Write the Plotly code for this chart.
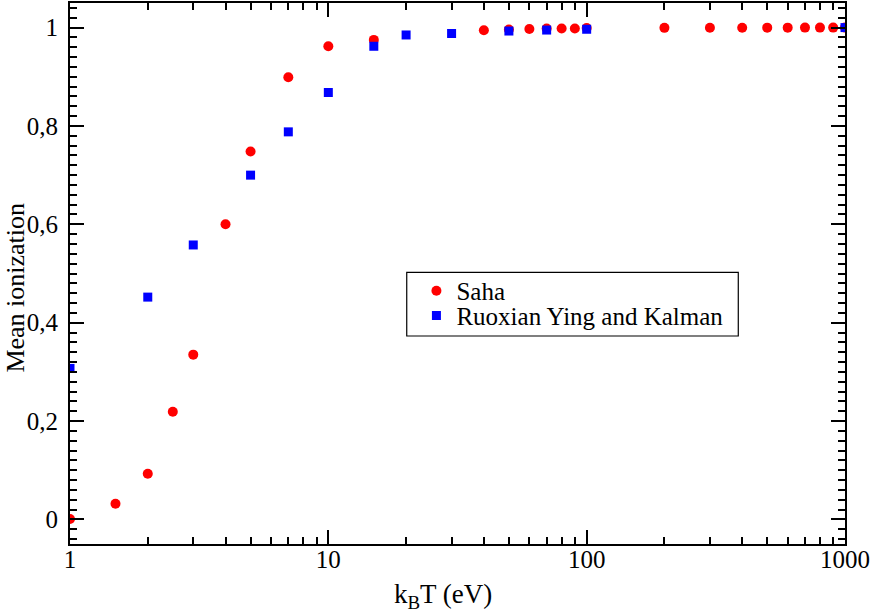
import plotly.graph_objects as go

saha_T = [1, 1.5, 2, 2.5, 3, 4, 5, 7, 10, 15, 40, 50, 60, 70, 80, 90, 100,
          200, 300, 400, 500, 600, 700, 800, 900, 1000]
saha_Z = [0.001, 0.032, 0.093, 0.219, 0.335, 0.600, 0.748, 0.899, 0.962, 0.975,
          0.9945, 0.996, 0.997, 0.998, 0.998, 0.998, 0.999,
          0.9995, 0.9997, 0.9998, 0.9999, 0.9999, 1.0, 1.0, 1.0, 1.0]

ryk_T = [1, 2, 3, 5, 7, 10, 15, 20, 30, 50, 70, 100, 1000]
ryk_Z = [0.307, 0.452, 0.558, 0.700, 0.788, 0.868, 0.962, 0.985, 0.988,
         0.993, 0.995, 0.9966, 1.0]

x_major = [1, 10, 100, 1000]
x_minor = [m * d for d in (1, 10, 100) for m in range(2, 10)]
y_major = [0, 0.2, 0.4, 0.6, 0.8, 1]
y_major_text = ["0", "0,2", "0,4", "0,6", "0,8", "1"]

x_title = "k<sub>B</sub>T (eV)"
y_title = "Mean ionization"

FONT = "Liberation Serif, Times New Roman, DejaVu Serif, serif"

fig = go.Figure()
fig.add_trace(go.Scatter(x=saha_T, y=saha_Z, mode="markers", name="Saha",
                         legend="legend",
                         marker=dict(symbol="circle", size=10, color="#ff0000",
                                     line=dict(width=0))))
fig.add_trace(go.Scatter(x=ryk_T, y=ryk_Z, mode="markers",
                         name="Ruoxian Ying and Kalman", legend="legend2",
                         marker=dict(symbol="square", size=9, color="#0000ff",
                                     line=dict(width=0))))

leg_common = dict(xanchor="left", yanchor="middle", bgcolor="rgba(0,0,0,0)",
                  borderwidth=0, font=dict(family=FONT, size=25, color="black"))

fig.update_layout(
    width=872, height=613,
    margin=dict(l=70, r=27, t=3, b=69),
    paper_bgcolor="white", plot_bgcolor="white",
    font=dict(family=FONT, size=25, color="black"),
    showlegend=True,
    legend=dict(x=0.447, y=0.4677, **leg_common),
    legend2=dict(x=0.447, y=0.422, **leg_common),
    shapes=[dict(type="rect", xref="paper", yref="paper",
                 x0=0.4345, x1=0.8623, y0=0.3845, y1=0.5022,
                 line=dict(color="black", width=1.2), fillcolor="white",
                 layer="below")],
    annotations=[
        dict(text=x_title, xref="paper", yref="paper", x=0.4815, y=-0.096,
             xanchor="center", yanchor="middle", showarrow=False,
             font=dict(family=FONT, size=27, color="black")),
        dict(text=y_title, xref="paper", yref="paper", x=-0.0703, y=0.473,
             xanchor="center", yanchor="middle", showarrow=False,
             borderpad=0,
             textangle=-90, font=dict(family=FONT, size=26, color="black")),
    ],
    xaxis=dict(type="log", range=[0, 3], automargin=False,
               tickvals=x_major, ticktext=[str(v) for v in x_major],
               ticks="inside", ticklen=14, tickwidth=1.5, tickcolor="black",
               ticklabelstandoff=-8,
               minor=dict(tickvals=x_minor, ticks="inside", ticklen=7,
                          tickwidth=1.5, tickcolor="black", showgrid=False),
               showline=True, linecolor="black", linewidth=2, mirror="ticks",
               showgrid=False, zeroline=False,
               tickfont=dict(family=FONT, size=25)),
    yaxis=dict(range=[-0.05, 1.05], automargin=False,
               tickvals=y_major, ticktext=y_major_text,
               ticks="inside", ticklen=14, tickwidth=1.5, tickcolor="black",
               ticklabelstandoff=5,
               minor=dict(dtick=0.02, ticks="inside", ticklen=7,
                          tickwidth=1.5, tickcolor="black", showgrid=False),
               showline=True, linecolor="black", linewidth=2, mirror="ticks",
               showgrid=False, zeroline=False,
               tickfont=dict(family=FONT, size=25)),
)

fig.write_html("out.html",
               config={"displayModeBar": False},
               post_script="document.body.style.margin='0px';"
                           "document.body.style.overflow='hidden';")
